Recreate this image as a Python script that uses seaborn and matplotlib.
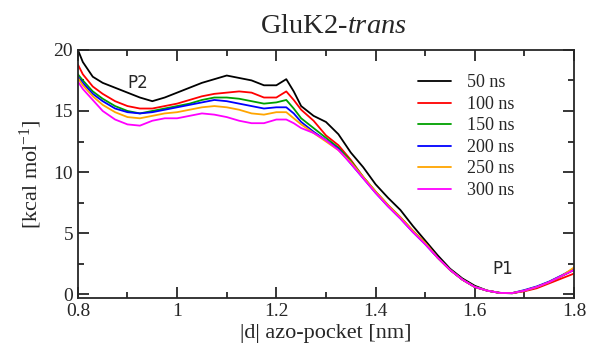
import matplotlib
matplotlib.use("Agg")
import matplotlib.pyplot as plt
import seaborn as sns
import pandas as pd
from matplotlib.ticker import MultipleLocator

x = [0.80, 0.81, 0.83, 0.85, 0.875, 0.90, 0.925, 0.95, 0.975, 1.00, 1.025, 1.05, 1.075, 1.10,
     1.125, 1.15, 1.175, 1.20, 1.22, 1.235, 1.25, 1.275, 1.30, 1.325, 1.35, 1.375, 1.40, 1.425,
     1.45, 1.475, 1.50, 1.525, 1.55, 1.575, 1.60, 1.625, 1.65, 1.675, 1.70, 1.725, 1.75, 1.775, 1.80]

ns50 = [20.0, 19.0, 17.8, 17.3, 16.9, 16.5, 16.1, 15.8, 16.1, 16.5, 16.9, 17.3, 17.6, 17.9,
        17.7, 17.5, 17.1, 17.1, 17.6, 16.6, 15.4, 14.6, 14.1, 13.1, 11.6, 10.4, 9.0, 7.9,
        6.9, 5.6, 4.4, 3.2, 2.1, 1.3, 0.7, 0.3, 0.12, 0.08, 0.3, 0.6, 1.0, 1.5, 2.0]
ns100 = [18.8, 18.0, 17.0, 16.4, 15.8, 15.4, 15.2, 15.2, 15.4, 15.6, 15.9, 16.2, 16.4, 16.5,
         16.6, 16.5, 16.1, 16.1, 16.6, 15.9, 15.1, 14.2, 13.0, 12.2, 11.0, 9.6, 8.4, 7.3,
         6.3, 5.2, 4.2, 3.0, 2.0, 1.2, 0.6, 0.3, 0.12, 0.1, 0.25, 0.5, 0.9, 1.3, 1.7]
ns150 = [18.0, 17.5, 16.6, 16.0, 15.4, 15.0, 14.8, 15.0, 15.2, 15.4, 15.6, 15.9, 16.1, 16.1,
         16.0, 15.8, 15.6, 15.7, 15.9, 15.2, 14.4, 13.6, 12.8, 12.0, 10.9, 9.6, 8.4, 7.3,
         6.3, 5.2, 4.2, 3.0, 2.0, 1.2, 0.6, 0.3, 0.12, 0.1, 0.3, 0.6, 1.0, 1.5, 2.1]
ns200 = [17.8, 17.3, 16.4, 15.8, 15.2, 14.9, 14.8, 14.9, 15.1, 15.3, 15.5, 15.7, 15.9, 15.8,
         15.6, 15.4, 15.2, 15.3, 15.3, 14.8, 14.1, 13.3, 12.6, 11.9, 10.7, 9.5, 8.3, 7.2,
         6.2, 5.1, 4.1, 3.0, 2.0, 1.2, 0.6, 0.3, 0.12, 0.1, 0.35, 0.65, 1.05, 1.55, 2.1]
ns250 = [17.7, 17.1, 16.2, 15.5, 14.9, 14.5, 14.4, 14.6, 14.8, 14.9, 15.1, 15.3, 15.4, 15.3,
         15.1, 14.8, 14.7, 14.9, 14.9, 14.4, 13.9, 13.2, 12.5, 11.8, 10.8, 9.6, 8.4, 7.3,
         6.3, 5.2, 4.2, 3.0, 2.0, 1.2, 0.6, 0.3, 0.12, 0.1, 0.3, 0.6, 1.0, 1.5, 2.2]
ns300 = [17.4, 16.8, 15.9, 15.0, 14.3, 13.9, 13.8, 14.2, 14.4, 14.4, 14.6, 14.8, 14.7, 14.5,
         14.2, 14.0, 14.0, 14.3, 14.3, 14.0, 13.6, 13.2, 12.6, 11.8, 10.7, 9.5, 8.3, 7.2,
         6.2, 5.1, 4.1, 3.0, 2.0, 1.2, 0.6, 0.3, 0.12, 0.1, 0.3, 0.6, 1.0, 1.5, 2.0]

labels = ["50 ns", "100 ns", "150 ns", "200 ns", "250 ns", "300 ns"]
colors = ["#000000", "#ff0000", "#00a000", "#0000ff", "#ffa500", "#ff00ff"]
series = [ns50, ns100, ns150, ns200, ns250, ns300]

rows = []
for lab, ys in zip(labels, series):
    for xi, yi in zip(x, ys):
        rows.append({"d": xi, "G": yi, "time": lab})
df = pd.DataFrame(rows)

sns.set_style("ticks")
plt.rcParams["font.family"] = ["Liberation Serif", "DejaVu Serif"]
plt.rcParams["mathtext.fontset"] = "custom"
plt.rcParams["mathtext.rm"] = "Liberation Serif"
plt.rcParams["mathtext.it"] = "Liberation Serif:italic"

fig = plt.figure(figsize=(5.9, 3.51), dpi=100)
ax = fig.add_axes([0.132, 0.151, 0.841, 0.707])

sns.lineplot(data=df, x="d", y="G", hue="time", hue_order=labels,
             palette=dict(zip(labels, colors)), linewidth=1.3, ax=ax, legend=True)

ax.set_xlim(0.8, 1.8)
ax.set_ylim(-0.3, 20)
ax.xaxis.set_minor_locator(MultipleLocator(0.1))
ax.yaxis.set_major_locator(MultipleLocator(5))
ax.yaxis.set_minor_locator(MultipleLocator(2.5))
ax.set_xticks([0.8, 1.0, 1.2, 1.4, 1.6, 1.8])
ax.set_xticklabels(["0.8", "1", "1.2", "1.4", "1.6", "1.8"])
ax.tick_params(which="both", direction="in", top=True, right=True, width=1.3, labelsize=14)
ax.tick_params(which="major", length=8)
ax.tick_params(which="minor", length=4)
for s in ax.spines.values():
    s.set_linewidth(1.3)

ax.set_xlabel("|d| azo-pocket [nm]", fontsize=16, labelpad=3)
ax.set_ylabel("[kcal mol$^{-1}$]", fontsize=16, labelpad=7)
ax.set_title("GluK2-$\\it{trans}$", fontsize=20.5, pad=12, x=0.515)

ax.text(0.92, 17.3, "P2", fontsize=12, family="DejaVu Sans", ha="center", va="center")
ax.text(1.657, 2.1, "P1", fontsize=12, family="DejaVu Sans", ha="center", va="center")

leg = ax.legend(loc="upper left", bbox_to_anchor=(0.671, 0.93), frameon=False,
                fontsize=13, handlelength=1.8, handletextpad=0.9, labelspacing=0.25,
                borderaxespad=0)
for line in leg.get_lines():
    line.set_linewidth(1.3)

fig.savefig("out.png", dpi=100)
